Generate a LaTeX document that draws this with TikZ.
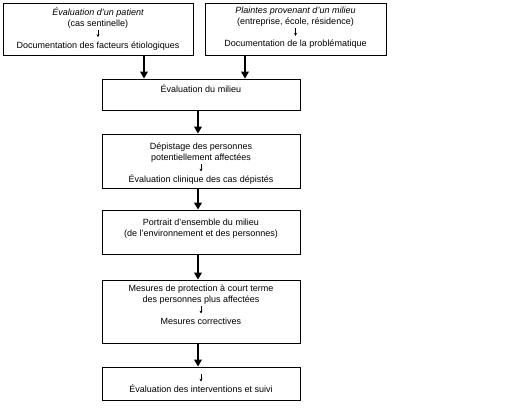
\documentclass[tikz,border=0pt]{standalone}
\usepackage{fontspec}
\setmainfont{Liberation Sans}
\usetikzlibrary{arrows.meta}
\newcommand\darr{\tikz[baseline=-0.5pt]\draw[-{Stealth[length=2.8pt,width=3pt]},line width=0.5pt](0,7pt)--(0,-0.5pt);}
\begin{document}
\begin{tikzpicture}[x=1pt,y=1pt,
  box/.style={draw,line width=0.8pt,inner sep=0pt},
  txt/.style={anchor=north,align=center,inner sep=0pt,font=\fontsize{9}{11}\selectfont},
  flow/.style={line width=2.6pt,-{Triangle[length=7pt,width=7.5pt]}}]
\useasboundingbox (0,0) rectangle (532,-411);
\fill[white] (0,0) rectangle (532,-411);
\node[box,minimum width=190pt,minimum height=52pt] (b1) at (98,-29) {};
\node[box,minimum width=181pt,minimum height=52pt] (b2) at (295.5,-29) {};
\node[box,minimum width=198pt,minimum height=31pt] (b3) at (201,-94.5) {};
\node[box,minimum width=198pt,minimum height=54pt] (b4) at (201,-161) {};
\node[box,minimum width=198pt,minimum height=44pt] (b5) at (201,-232) {};
\node[box,minimum width=198pt,minimum height=63pt] (b6) at (201,-311.5) {};
\node[box,minimum width=198pt,minimum height=33pt] (b7) at (201,-383.5) {};
\node[txt] (t1) at ([yshift=-4.5pt]b1.north) {\itshape Évaluation d'un patient\\(cas sentinelle)\\\darr\\Documentation des facteurs étiologiques};
\node[txt] (t2) at ([yshift=-4.5pt]b2.north) {\itshape Plaintes provenant d'un milieu\\(entreprise, école, résidence)\\\darr\\Documentation de la problématique};
\node[txt] (t3) at ([yshift=-5.5pt]b3.north) {Évaluation du milieu};
\node[txt] (t4) at ([yshift=-9pt]b4.north) {Dépistage des personnes\\potentiellement affectées\\\darr\\Évaluation clinique des cas dépistés};
\node[txt] (t5) at ([yshift=-9.5pt]b5.north) {Portrait d'ensemble du milieu\\(de l'environnement et des personnes)};
\node[txt] (t6) at ([yshift=-5pt]b6.north) {Mesures de protection à court terme\\des personnes plus affectées\\\darr\\Mesures correctives};
\node[txt] (t7) at ([yshift=-7pt]b7.north) {\darr\\Évaluation des interventions et suivi};
\draw[flow] (144,-55) coordinate (a1) -- (a1 |- b3.north);
\draw[flow] (245,-55) coordinate (a2) -- (a2 |- b3.north);
\draw[flow] ([xshift=-3pt]b3.south) -- ([xshift=-3pt]b4.north);
\draw[flow] ([xshift=-3pt]b4.south) -- ([xshift=-3pt]b5.north);
\draw[flow] ([xshift=-3pt]b5.south) -- ([xshift=-3pt]b6.north);
\draw[flow] ([xshift=-3pt]b6.south) -- ([xshift=-3pt]b7.north);
\end{tikzpicture}
\end{document}
